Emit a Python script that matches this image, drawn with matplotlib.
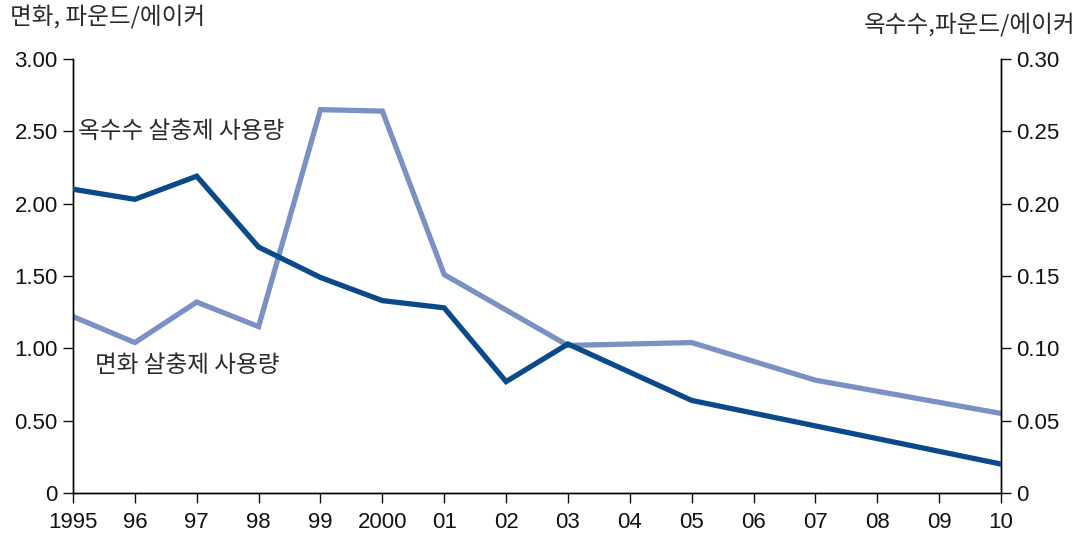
import matplotlib
matplotlib.use('Agg')
import matplotlib.pyplot as plt

# data
cotton_years = [1995, 1996, 1997, 1998, 1999, 2000, 2001, 2002, 2003, 2005, 2010]
cotton_lbs = [2.10, 2.03, 2.19, 1.70, 1.49, 1.33, 1.28, 0.77, 1.03, 0.64, 0.20]

corn_years = [1995, 1996, 1997, 1998, 1999, 2000, 2001, 2003, 2005, 2007, 2010]
corn_lbs = [0.122, 0.104, 0.132, 0.115, 0.265, 0.264, 0.151, 0.102, 0.104, 0.078, 0.055]

year_ticks = list(range(1995, 2011))
year_labels = ['1995', '96', '97', '98', '99', '2000', '01', '02', '03', '04',
               '05', '06', '07', '08', '09', '10']
left_ticks = [0, 0.5, 1.0, 1.5, 2.0, 2.5, 3.0]
left_labels = ['0', '0.50', '1.00', '1.50', '2.00', '2.50', '3.00']
right_ticks = [0, 0.05, 0.10, 0.15, 0.20, 0.25, 0.30]
right_labels = ['0', '0.05', '0.10', '0.15', '0.20', '0.25', '0.30']

dark = '#0b4a8a'
light = '#7a92c3'
kr = ['Noto Sans CJK KR', 'DejaVu Sans']
num = 'Liberation Sans'
txt = '#2a2a2a'

fig = plt.figure(figsize=(10.83, 5.36), dpi=100)
ax = fig.add_axes([0.0674, 0.0802, 0.8569, 0.8097])
ax2 = ax.twinx()

ax.plot(cotton_years, cotton_lbs, color=dark, lw=3.8, solid_joinstyle='miter', zorder=3)
ax2.plot(corn_years, corn_lbs, color=light, lw=3.8, solid_joinstyle='miter', zorder=2)

ax.set_xlim(1995, 2010)
ax.set_ylim(0, 3.0)
ax2.set_ylim(0, 0.30)

ax.set_xticks(year_ticks)
ax.set_xticklabels(year_labels, fontfamily=num, fontsize=16)
ax.set_yticks(left_ticks)
ax.set_yticklabels(left_labels, fontfamily=num, fontsize=16)
ax2.set_yticks(right_ticks)
ax2.set_yticklabels(right_labels, fontfamily=num, fontsize=16)

for a in (ax, ax2):
    a.spines['top'].set_visible(False)
    for s in a.spines.values():
        s.set_linewidth(1.0)
    a.tick_params(direction='out', length=7, width=1, colors='#111111', pad=4)
ax.tick_params(axis='x', pad=7)
ax.set_zorder(ax2.get_zorder() + 1)
ax.patch.set_visible(False)

fig.text(0.009, 0.968, '면화, 파운드/에이커', family=kr, fontsize=17, color=txt,
         ha='left', va='center', fontweight='light')
fig.text(0.993, 0.955, '옥수수,파운드/에이커', family=kr, fontsize=17, color=txt,
         ha='right', va='center', fontweight='light')

ax.text(1995.08, 2.5, '옥수수 살충제 사용량', family=kr, fontsize=17, color=txt,
        ha='left', va='center', fontweight='light')
ax.text(1995.35, 0.88, '면화 살충제 사용량', family=kr, fontsize=17, color=txt,
        ha='left', va='center', fontweight='light')

fig.savefig('out.png', dpi=100)
